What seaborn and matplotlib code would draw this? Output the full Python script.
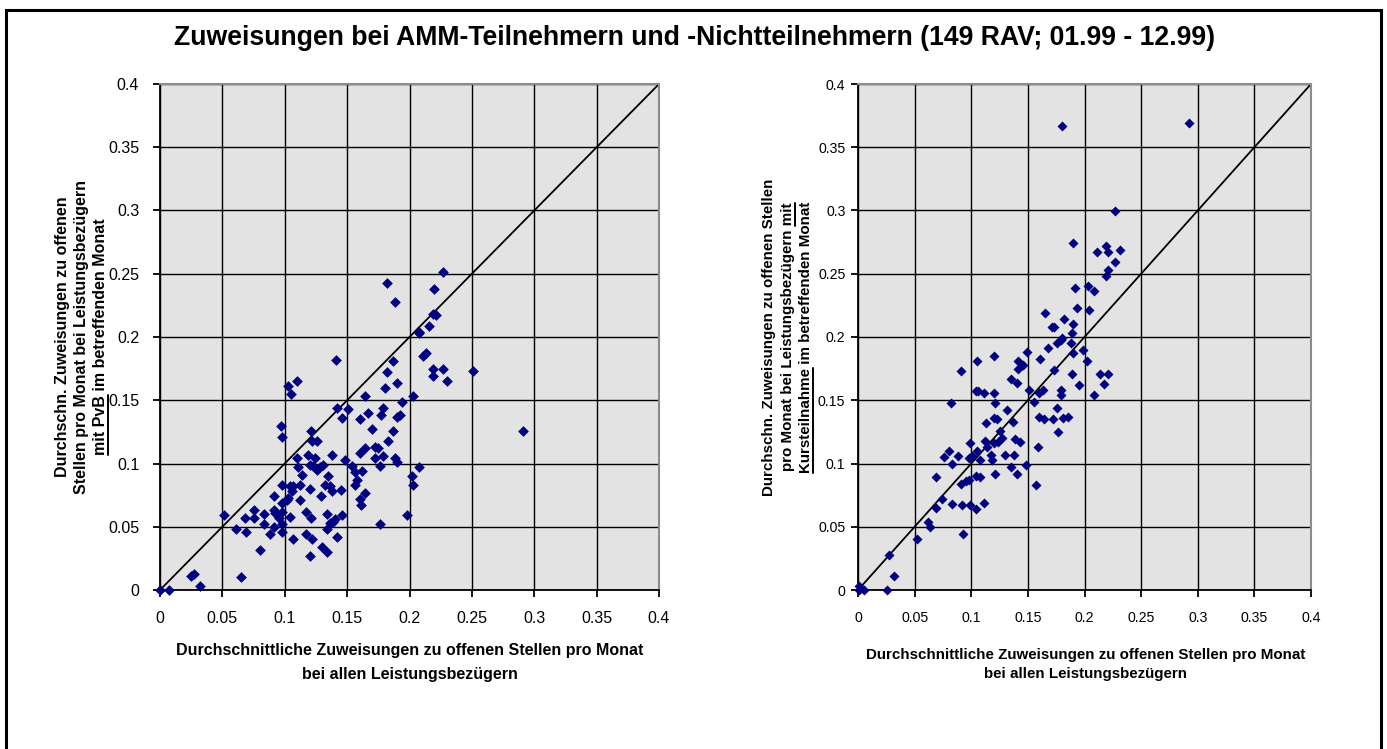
import matplotlib
matplotlib.use('Agg')
import matplotlib.pyplot as plt
import seaborn as sns
import pandas as pd
from matplotlib.lines import Line2D
from matplotlib.patches import Rectangle
from matplotlib.ticker import MultipleLocator, FuncFormatter

# Werte
alle_pvb = [0.000, 0.007, 0.025, 0.027, 0.032, 0.051, 0.065, 0.061, 0.069, 0.068,
            0.075, 0.075, 0.080, 0.083, 0.083, 0.088, 0.091, 0.091, 0.092, 0.091,
            0.095, 0.098, 0.098, 0.098, 0.098, 0.098, 0.097, 0.098, 0.103, 0.105,
            0.110, 0.102, 0.103, 0.104, 0.104, 0.107, 0.106, 0.107, 0.110, 0.111,
            0.112, 0.112, 0.114, 0.117, 0.117, 0.120, 0.120, 0.120, 0.123, 0.119,
            0.121, 0.122, 0.121, 0.122, 0.124, 0.126, 0.126, 0.128, 0.131, 0.129,
            0.130, 0.134, 0.132, 0.134, 0.134, 0.135, 0.136, 0.138, 0.138, 0.136,
            0.139, 0.140, 0.141, 0.142, 0.142, 0.145, 0.146, 0.146, 0.148, 0.151,
            0.154, 0.156, 0.158, 0.156, 0.160, 0.160, 0.162, 0.160, 0.161, 0.164,
            0.164, 0.164, 0.167, 0.170, 0.172, 0.172, 0.175, 0.176, 0.176, 0.177,
            0.179, 0.179, 0.180, 0.182, 0.183, 0.187, 0.187, 0.188, 0.190, 0.190,
            0.190, 0.192, 0.194, 0.198, 0.202, 0.203, 0.203, 0.208, 0.208, 0.211,
            0.213, 0.219, 0.219, 0.227, 0.230, 0.251, 0.291, 0.182, 0.188, 0.227,
            0.220, 0.219, 0.221, 0.216, 0.208]
mit_pvb = [0.000, 0.000, 0.011, 0.013, 0.003, 0.059, 0.010, 0.048, 0.046, 0.057,
           0.063, 0.057, 0.032, 0.060, 0.052, 0.044, 0.050, 0.063, 0.061, 0.074,
           0.057, 0.062, 0.052, 0.046, 0.069, 0.083, 0.130, 0.121, 0.161, 0.155,
           0.165, 0.071, 0.073, 0.058, 0.082, 0.082, 0.078, 0.040, 0.104, 0.097,
           0.083, 0.071, 0.091, 0.044, 0.062, 0.027, 0.080, 0.099, 0.098, 0.107,
           0.126, 0.118, 0.057, 0.040, 0.104, 0.118, 0.095, 0.097, 0.099, 0.074,
           0.034, 0.030, 0.083, 0.060, 0.048, 0.090, 0.082, 0.078, 0.107, 0.053,
           0.054, 0.056, 0.182, 0.144, 0.042, 0.079, 0.059, 0.136, 0.103, 0.143,
           0.098, 0.093, 0.087, 0.083, 0.108, 0.135, 0.094, 0.072, 0.067, 0.077,
           0.153, 0.112, 0.140, 0.127, 0.104, 0.113, 0.112, 0.052, 0.098, 0.138,
           0.106, 0.144, 0.160, 0.172, 0.118, 0.181, 0.126, 0.104, 0.101, 0.164,
           0.137, 0.138, 0.149, 0.059, 0.090, 0.083, 0.153, 0.097, 0.204, 0.185,
           0.187, 0.175, 0.169, 0.175, 0.165, 0.173, 0.126, 0.243, 0.228, 0.251,
           0.238, 0.218, 0.217, 0.209, 0.203]

alle_kurs = [0.001, 0.005, 0.001, 0.026, 0.027, 0.032, 0.052, 0.062, 0.064, 0.069,
             0.069, 0.074, 0.076, 0.080, 0.082, 0.083, 0.083, 0.088, 0.091, 0.091,
             0.095, 0.092, 0.093, 0.098, 0.099, 0.098, 0.101, 0.099, 0.104, 0.105,
             0.104, 0.106, 0.104, 0.105, 0.108, 0.108, 0.111, 0.111, 0.112, 0.113,
             0.114, 0.117, 0.118, 0.120, 0.120, 0.121, 0.120, 0.123, 0.121, 0.120,
             0.124, 0.125, 0.127, 0.130, 0.132, 0.135, 0.135, 0.137, 0.138, 0.140,
             0.139, 0.143, 0.141, 0.141, 0.140, 0.146, 0.148, 0.149, 0.151, 0.155,
             0.157, 0.159, 0.160, 0.164, 0.160, 0.163, 0.161, 0.168, 0.172, 0.173,
             0.176, 0.177, 0.176, 0.179, 0.179, 0.179, 0.181, 0.185, 0.188, 0.189,
             0.190, 0.195, 0.199, 0.202, 0.208, 0.217, 0.214, 0.221, 0.189, 0.180,
             0.292, 0.227, 0.190, 0.219, 0.231, 0.211, 0.221, 0.227, 0.221, 0.219,
             0.192, 0.203, 0.208, 0.193, 0.204, 0.165, 0.171, 0.173, 0.182, 0.190,
             0.180]
mit_kurs = [0.003, 0.000, 0.000, 0.000, 0.028, 0.011, 0.040, 0.054, 0.050, 0.089,
            0.065, 0.072, 0.105, 0.110, 0.148, 0.100, 0.068, 0.106, 0.173, 0.084,
            0.086, 0.067, 0.044, 0.087, 0.116, 0.104, 0.106, 0.067, 0.064, 0.181,
            0.157, 0.157, 0.090, 0.110, 0.103, 0.089, 0.069, 0.156, 0.118, 0.132,
            0.113, 0.107, 0.103, 0.185, 0.156, 0.148, 0.136, 0.135, 0.092, 0.116,
            0.117, 0.126, 0.120, 0.107, 0.142, 0.097, 0.167, 0.133, 0.107, 0.092,
            0.119, 0.117, 0.181, 0.175, 0.164, 0.178, 0.099, 0.188, 0.158, 0.149,
            0.083, 0.113, 0.137, 0.135, 0.156, 0.158, 0.183, 0.191, 0.135, 0.174,
            0.144, 0.125, 0.195, 0.198, 0.158, 0.154, 0.136, 0.137, 0.195, 0.171,
            0.187, 0.162, 0.190, 0.181, 0.154, 0.163, 0.171, 0.171, 0.203, 0.367,
            0.369, 0.300, 0.274, 0.272, 0.269, 0.267, 0.267, 0.259, 0.253, 0.248,
            0.239, 0.240, 0.236, 0.223, 0.221, 0.219, 0.208, 0.208, 0.214, 0.210,
            0.199]

diagonale = [0.0, 0.4]
achsen_ticks = [0.0, 0.4, 0.05]

titel = 'Zuweisungen bei AMM-Teilnehmern und -Nichtteilnehmern (149 RAV; 01.99 - 12.99)'
x_text = ['Durchschnittliche Zuweisungen zu offenen Stellen pro Monat',
          'bei allen Leistungsbezügern']
# (Zeile, unterstrichener Teil, Position)
y_text_pvb = [('Durchschn. Zuweisungen zu offenen', None, None),
              ('Stellen pro Monat bei Leistungsbezügern', None, None),
              ('mit PvB im betreffenden Monat', 'mit PvB', 'start')]
y_text_kurs = [('Durchschn. Zuweisungen zu offenen Stellen', None, None),
               ('pro Monat bei Leistungsbezügern mit', 'mit', 'end'),
               ('Kursteilnahme im betreffenden Monat', 'Kursteilnahme', 'start')]

sns.set_theme(
    style='ticks',
    rc={
        'axes.facecolor': '#e3e3e3',
        'axes.grid': True,
        'grid.color': 'black',
        'grid.linewidth': 1.0,
        'axes.axisbelow': True,
        'xtick.color': 'black',
        'ytick.color': 'black',
        'text.color': 'black',
        'axes.labelcolor': 'black',
    }
)
plt.rcParams['font.family'] = ['Liberation Sans', 'DejaVu Sans']

W, H = 1387, 749
fig = plt.figure(figsize=(W / 100, H / 100), dpi=100)


def px_axes(left, top, right, bottom):
    return fig.add_axes([left / W, 1 - bottom / H, (right - left) / W, (bottom - top) / H])


ax1 = px_axes(160, 84, 659, 590)
ax2 = px_axes(858, 84, 1311, 590)

df_pvb = pd.DataFrame({'alle': alle_pvb, 'mit': mit_pvb})
df_kurs = pd.DataFrame({'alle': alle_kurs, 'mit': mit_kurs})

for ax, df, size, tick_size, ypad in [(ax1, df_pvb, 30, 11.5, 10), (ax2, df_kurs, 26, 10.2, 4)]:
    ax.plot(diagonale, diagonale, color='black', linewidth=1.3, zorder=2)
    sns.scatterplot(data=df, x='alle', y='mit', ax=ax, marker='D', color='#000080',
                    s=size, linewidth=0, zorder=3, clip_on=False)
    ax.set_xlim(achsen_ticks[0], achsen_ticks[1])
    ax.set_ylim(achsen_ticks[0], achsen_ticks[1])
    ax.xaxis.set_major_locator(MultipleLocator(achsen_ticks[2]))
    ax.yaxis.set_major_locator(MultipleLocator(achsen_ticks[2]))
    fmt = FuncFormatter(lambda v, p: f'{round(v, 2):g}')
    ax.xaxis.set_major_formatter(fmt)
    ax.yaxis.set_major_formatter(fmt)
    ax.set_xlabel('')
    ax.set_ylabel('')
    ax.tick_params(length=5, width=1.3, labelsize=tick_size, labelcolor='black')
    ax.tick_params(axis='x', pad=10)
    ax.tick_params(axis='y', pad=ypad)
    for side in ['left', 'bottom']:
        ax.spines[side].set_color('black')
        ax.spines[side].set_linewidth(1.3)
    for side in ['top', 'right']:
        ax.spines[side].set_visible(True)
        ax.spines[side].set_color('#8c8c8c')
        ax.spines[side].set_linewidth(1.5)

fig.text(695 / W, 1 - 45 / H, titel, ha='center', va='baseline',
         fontsize=19.2, fontweight='bold')

# x-Beschriftungen
for cx, baselines, fs in [(410, (655, 679), 11.5), (1086, (659, 678), 10.9)]:
    for line, by in zip(x_text, baselines):
        fig.text(cx / W, 1 - by / H, line, ha='center', va='baseline',
                 fontsize=fs, fontweight='bold')

fig.canvas.draw()
renderer = fig.canvas.get_renderer()


def text_width(s, fs):
    t = fig.text(0, 0, s, fontsize=fs, fontweight='bold')
    w = t.get_window_extent(renderer).width
    t.remove()
    return w


# y-Beschriftungen, gedreht, mit Unterstreichung
for lines, baselines, fs in [(y_text_pvb, (67, 86, 105), 11.5),
                             (y_text_kurs, (773, 792, 810), 10.9)]:
    cy = H - 337
    for (line, under, pos), bx in zip(lines, baselines):
        fig.text(bx / W, cy / H, line, rotation=90, rotation_mode='anchor',
                 ha='center', va='baseline', fontsize=fs, fontweight='bold')
        if under:
            full = text_width(line, fs)
            part = text_width(under, fs)
            if pos == 'start':
                y0, y1 = cy - full / 2, cy - full / 2 + part
            else:
                y0, y1 = cy + full / 2 - part, cy + full / 2
            ux = bx + 2.5
            fig.add_artist(Line2D([ux / W, ux / W], [y0 / H, y1 / H], color='black',
                                  linewidth=1.4, transform=fig.transFigure))

# Rahmen um die ganze Grafik
fig.add_artist(Rectangle((6 / W, -20 / H), (1381 - 6) / W, (H - 10 + 20) / H,
                         transform=fig.transFigure, fill=False,
                         edgecolor='black', linewidth=2.2))

fig.savefig('out.png', dpi=100)
